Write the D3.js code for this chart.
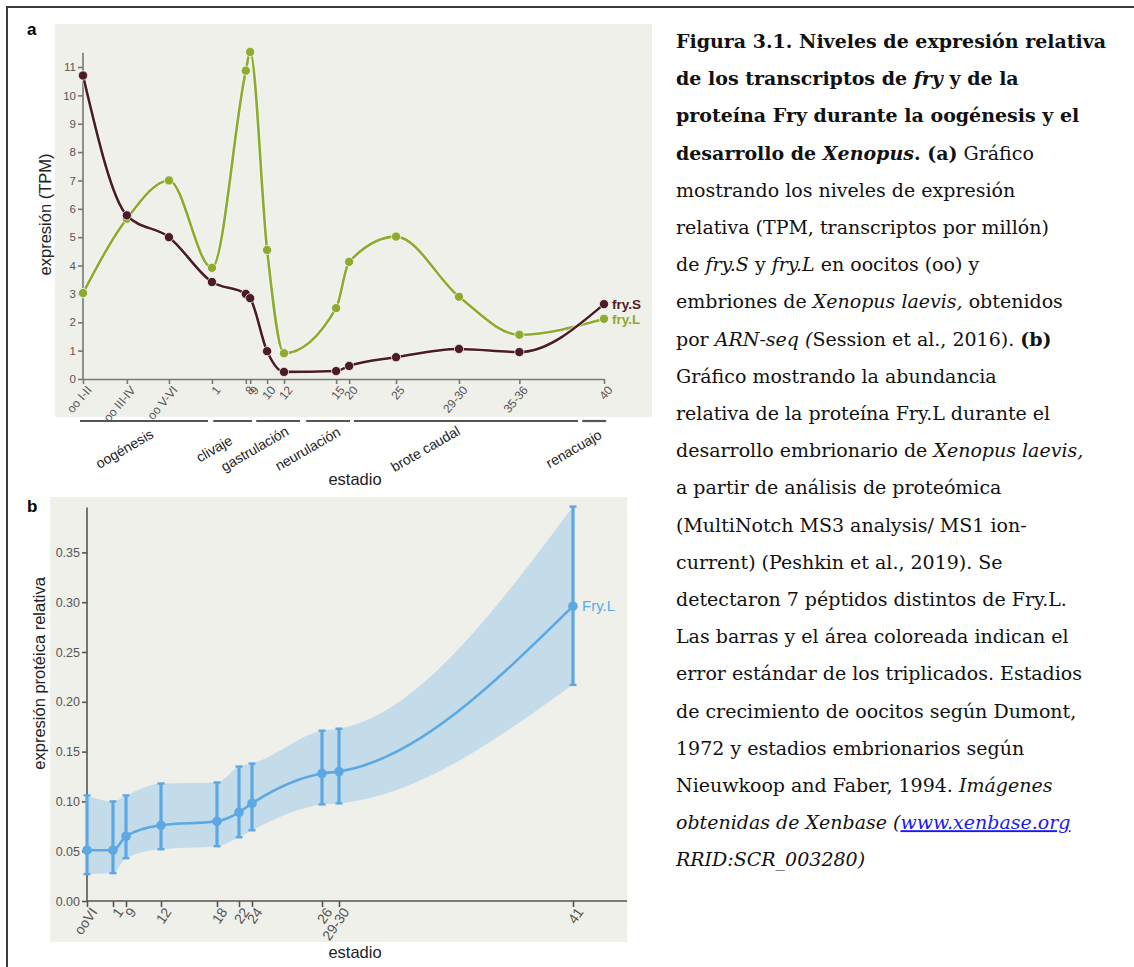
<!DOCTYPE html>
<html>
<head>
<meta charset="utf-8">
<script src="https://cdn.jsdelivr.net/npm/d3@7"></script>
<style>
  body { margin: 0; background: #fff; }
  svg { display: block; }
  .tick text { fill: #555; }
</style>
</head>
<body>
<div id="fig"></div>
<script>
// panel a: RNA-seq TPM
const stagesA = ["oo I-II", "oo III-IV", "oo V-VI", "1", "8", "9", "10", "12", "15", "20", "25", "29-30", "35-36", "40"];
const stagePosA = [0, 1.01, 1.98, 2.97, 3.75, 3.85, 4.24, 4.63, 5.83, 6.13, 7.21, 8.66, 10.05, 12];
const frySvals = [10.7, 5.77, 5.0, 3.42, 3.0, 2.85, 0.98, 0.25, 0.28, 0.46, 0.77, 1.06, 0.95, 2.64];
const fryLvals = [3.03, 5.65, 7.0, 3.92, 10.87, 11.53, 4.55, 0.91, 2.5, 4.13, 5.02, 2.9, 1.56, 2.12];
const groupNames = ["oogénesis", "clivaje", "gastrulación", "neurulación", "brote caudal", "renacuajo"];
const groupStart = [-0.07, 3.0, 3.99, 5.14, 6.24, 11.5];
const groupEnd = [2.88, 3.89, 5.0, 6.15, 11.4, 12.05];
const yTicksA = d3.range(0, 12);

// panel b: proteomics
const stagesB = ["ooVI", "1", "9", "12", "18", "22", "24", "26", "29-30", "41"];
const stagePosB = [0, 26, 39, 74, 130, 152, 165, 235, 252, 486];
const fryProt = [0.051, 0.051, 0.065, 0.076, 0.080, 0.089, 0.098, 0.128, 0.130, 0.296];
const fryProtHi = [0.106, 0.100, 0.106, 0.118, 0.119, 0.135, 0.138, 0.171, 0.173, 0.396];
const fryProtLo = [0.027, 0.028, 0.043, 0.052, 0.055, 0.064, 0.071, 0.097, 0.098, 0.217];
const yTicksB = [0, 0.05, 0.10, 0.15, 0.20, 0.25, 0.30, 0.35];

const W = 1134, H = 967;
const sans = "'Liberation Sans', Arial, sans-serif";
const serif = "'DejaVu Serif', 'Liberation Serif', serif";
const colS = "#4b1c28", colL = "#8dab2e", colB = "#5ba8e4", colBand = "#c4dce9";
const bg = "#f0f0eb";

const svg = d3.select("#fig").append("svg")
  .attr("width", W).attr("height", H)
  .style("font-family", sans);

// frame
svg.append("rect").attr("x", 7).attr("y", 7).attr("width", W + 10).attr("height", H + 10)
  .attr("fill", "none").attr("stroke", "#3a3a3a").attr("stroke-width", 2);

// ---------- panel a ----------
svg.append("rect").attr("x", 55).attr("y", 24).attr("width", 597).attr("height", 393).attr("fill", bg);
svg.append("text").attr("x", 27).attr("y", 35).attr("font-weight", "bold").attr("font-size", 17).text("a");

const xA = d3.scaleLinear().domain([0, 12]).range([83, 604]);
const yA = d3.scaleLinear().domain([0, 11]).range([379, 67]);

const gA = svg.append("g");
const yAxisA = gA.append("g").attr("transform", `translate(${xA(0)},0)`)
  .call(d3.axisLeft(yA).tickValues(yTicksA).tickSize(5).tickSizeOuter(0).tickPadding(2));
yAxisA.select(".domain").attr("d", `M0,${yA(0)}V${yA(11.5)}`);
yAxisA.selectAll(".tick text").attr("font-size", 11.5).attr("font-family", sans);

const xAxisA = gA.append("g").attr("transform", `translate(0,${yA(0)})`)
  .call(d3.axisBottom(xA).tickValues(stagePosA).tickFormat((d, i) => stagesA[i]).tickSize(5).tickSizeOuter(0));
xAxisA.selectAll(".tick text").attr("font-size", 12).attr("font-family", sans)
  .attr("text-anchor", "end").attr("dx", -3).attr("dy", 6)
  .attr("transform", "rotate(-50)");
gA.selectAll(".domain, .tick line").attr("stroke", "#777").attr("stroke-width", 1.6);

// stage group brackets
gA.selectAll(".bracket").data(groupNames).enter().append("line")
  .attr("x1", (d, i) => xA(groupStart[i])).attr("x2", (d, i) => xA(groupEnd[i]))
  .attr("y1", 421).attr("y2", 421).attr("stroke", "#555").attr("stroke-width", 2.2);
const labelShift = [-17, -16, -21, -18, -38, -18];
gA.selectAll(".glabel").data(groupNames).enter().append("text")
  .attr("transform", (d, i) => `translate(${(xA(groupStart[i]) + xA(groupEnd[i])) / 2 + labelShift[i]},${453}) rotate(-30)`)
  .attr("text-anchor", "middle").attr("font-size", 14).attr("fill", "#222").text(d => d);
gA.append("text").attr("x", 355).attr("y", 485).attr("text-anchor", "middle")
  .attr("font-size", 16.5).attr("fill", "#222").text("estadio");
gA.append("text").attr("transform", `translate(51,${yA(5.8)}) rotate(-90)`)
  .attr("text-anchor", "middle").attr("font-size", 16.5).attr("fill", "#222").text("expresión (TPM)");

const lineA = vals => d3.line().x((d, i) => xA(stagePosA[i])).y(d => yA(d)).curve(d3.curveMonotoneX)(vals);
[[fryLvals, colL], [frySvals, colS]].forEach(([vals, c]) => {
  gA.append("path").attr("d", lineA(vals)).attr("fill", "none").attr("stroke", "#fff")
    .attr("stroke-width", 4.2).attr("stroke-opacity", 0.6);
  gA.append("path").attr("d", lineA(vals)).attr("fill", "none").attr("stroke", c).attr("stroke-width", 2.6);
  gA.selectAll(null).data(vals).enter().append("circle")
    .attr("cx", (d, i) => xA(stagePosA[i])).attr("cy", d => yA(d)).attr("r", 4.6)
    .attr("fill", c).attr("stroke", "#fff").attr("stroke-opacity", 0.7).attr("stroke-width", 1);
});
gA.append("text").attr("x", xA(12) + 8).attr("y", yA(frySvals[13]) + 5).attr("font-size", 13.5)
  .attr("font-weight", "bold").attr("fill", colS).text("fry.S");
gA.append("text").attr("x", xA(12) + 8).attr("y", yA(fryLvals[13]) + 5).attr("font-size", 13.5)
  .attr("font-weight", "bold").attr("fill", colL).text("fry.L");

// ---------- panel b ----------
svg.append("rect").attr("x", 50).attr("y", 497).attr("width", 577).attr("height", 445).attr("fill", bg);
svg.append("text").attr("x", 27).attr("y", 512).attr("font-weight", "bold").attr("font-size", 17).text("b");

const xB = d3.scaleLinear().domain([0, 540]).range([87, 627]);
const yB = d3.scaleLinear().domain([0, 0.35]).range([901, 552.4]);
const gB = svg.append("g");

const band = d3.area().x((d, i) => xB(stagePosB[i])).y0((d, i) => yB(fryProtLo[i])).y1((d, i) => yB(fryProtHi[i]))
  .curve(d3.curveMonotoneX);
gB.append("path").attr("d", band(fryProt)).attr("fill", colBand);

const yAxisB = gB.append("g").attr("transform", `translate(${xB(0)},0)`)
  .call(d3.axisLeft(yB).tickValues(yTicksB).tickFormat(d3.format(".2f")).tickSize(5).tickSizeOuter(0).tickPadding(2));
yAxisB.select(".domain").attr("d", `M0,${yB(0)}V${yB(0.395)}`);
yAxisB.selectAll(".tick text").attr("font-size", 12.5).attr("font-family", sans);
const xAxisB = gB.append("g").attr("transform", `translate(0,${yB(0)})`)
  .call(d3.axisBottom(xB).tickValues(stagePosB).tickFormat((d, i) => stagesB[i]).tickSize(6).tickSizeOuter(0));
xAxisB.select(".domain").attr("d", `M${xB(0)},0H${xB(540)}`);
xAxisB.selectAll(".tick text").attr("font-size", 14).attr("font-family", sans)
  .attr("text-anchor", "end").attr("dx", -3).attr("dy", 6)
  .attr("transform", "rotate(-55)");
gB.selectAll(".domain, .tick line").attr("stroke", "#555").attr("stroke-width", 1.6);

gB.append("path")
  .attr("d", d3.line().x((d, i) => xB(stagePosB[i])).y(d => yB(d)).curve(d3.curveMonotoneX)(fryProt))
  .attr("fill", "none").attr("stroke", colB).attr("stroke-width", 2.6);
const eb = gB.selectAll(".eb").data(fryProt).enter().append("g");
eb.append("line").attr("x1", (d, i) => xB(stagePosB[i])).attr("x2", (d, i) => xB(stagePosB[i]))
  .attr("y1", (d, i) => yB(fryProtLo[i])).attr("y2", (d, i) => yB(fryProtHi[i]))
  .attr("stroke", colB).attr("stroke-width", 3.2);
[fryProtLo, fryProtHi].forEach(arr => {
  eb.append("line").attr("x1", (d, i) => xB(stagePosB[i]) - 3.5).attr("x2", (d, i) => xB(stagePosB[i]) + 3.5)
    .attr("y1", (d, i) => yB(arr[i])).attr("y2", (d, i) => yB(arr[i]))
    .attr("stroke", colB).attr("stroke-width", 2.4);
});
eb.append("circle").attr("cx", (d, i) => xB(stagePosB[i])).attr("cy", d => yB(d)).attr("r", 4.8).attr("fill", colB);
gB.append("text").attr("x", xB(486) + 9).attr("y", yB(fryProt[9]) + 5).attr("font-size", 15)
  .attr("fill", colB).text("Fry.L");
gB.append("text").attr("x", 355).attr("y", 958).attr("text-anchor", "middle")
  .attr("font-size", 16.5).attr("fill", "#222").text("estadio");
gB.append("text").attr("transform", `translate(45,${yB(0.2285)}) rotate(-90)`)
  .attr("text-anchor", "middle").attr("font-size", 16.5).attr("fill", "#222").text("expresión protéica relativa");

// ---------- caption ----------
// each line: list of [text, style] where b = bold, i = italic, u = link
const captionLines = [
  [["Figura 3.1. Niveles de expresión relativa", "b"]],
  [["de los transcriptos de ", "b"], ["fry", "bi"], [" y de la", "b"]],
  [["proteína Fry durante la oogénesis y el", "b"]],
  [["desarrollo de ", "b"], ["Xenopus", "bi"], [". (a)", "b"], [" Gráfico", ""]],
  [["mostrando los niveles de expresión", ""]],
  [["relativa (TPM, transcriptos por millón)", ""]],
  [["de ", ""], ["fry.S", "i"], [" y ", ""], ["fry.L", "i"], [" en oocitos (oo) y", ""]],
  [["embriones de ", ""], ["Xenopus laevis,", "i"], [" obtenidos", ""]],
  [["por ", ""], ["ARN-seq (", "i"], ["Session et al., 2016). ", ""], ["(b)", "b"]],
  [["Gráfico mostrando la abundancia", ""]],
  [["relativa de la proteína Fry.L durante el", ""]],
  [["desarrollo embrionario de ", ""], ["Xenopus laevis,", "i"]],
  [["a partir de análisis de proteómica", ""]],
  [["(MultiNotch MS3 analysis/ MS1 ion-", ""]],
  [["current) (Peshkin et al., 2019). Se", ""]],
  [["detectaron 7 péptidos distintos de Fry.L.", ""]],
  [["Las barras y el área coloreada indican el", ""]],
  [["error estándar de los triplicados. Estadios", ""]],
  [["de crecimiento de oocitos según Dumont,", ""]],
  [["1972 y estadios embrionarios según", ""]],
  [["Nieuwkoop and Faber, 1994. ", ""], ["Imágenes", "i"]],
  [["obtenidas de Xenbase (", "i"], ["www.xenbase.org", "iu"]],
  [["RRID:SCR_003280)", "i"]]
];
const cap = svg.append("text").attr("font-family", serif).attr("font-size", 19).attr("fill", "#111");
captionLines.forEach((ln, li) => {
  ln.forEach(([t, st], k) => {
    const ts = cap.append("tspan").text(t)
      .attr("font-weight", st.includes("b") ? "bold" : "normal")
      .attr("font-style", st.includes("i") ? "italic" : "normal");
    if (k === 0) ts.attr("x", 676).attr("y", 48 + li * 37.2);
    if (st.includes("u")) ts.attr("fill", "#1a1aee").attr("text-decoration", "underline");
  });
});
</script>
</body>
</html>
